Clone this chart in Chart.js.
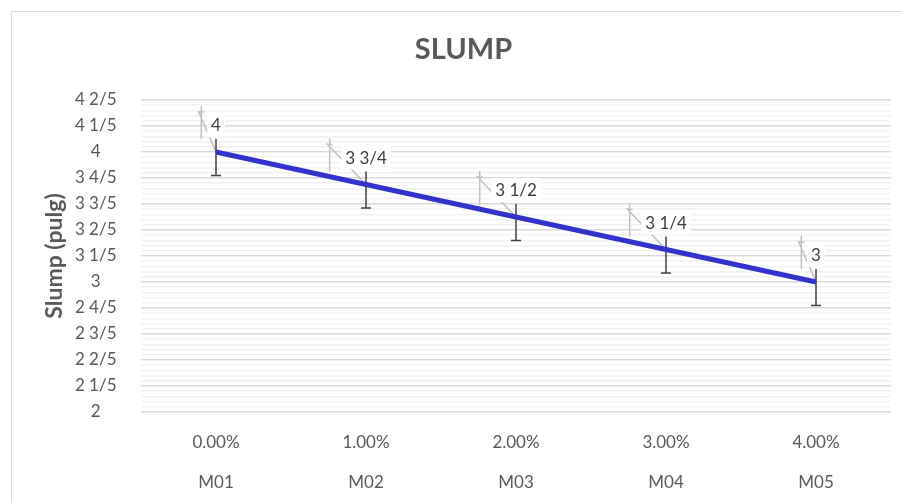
<!DOCTYPE html>
<html>
<head>
<meta charset="utf-8">
<script src="https://cdn.jsdelivr.net/npm/chart.js@4/dist/chart.umd.min.js"></script>
<style>
  html, body { margin: 0; padding: 0; background: #fff; }
  #wrap { position: relative; width: 901px; height: 501px; overflow: hidden; }
  #frame { position: absolute; left: 11px; top: 11px; width: 950px; height: 550px;
           border-top: 1px solid #d9d9d9; border-left: 1px solid #d9d9d9; }
  canvas { position: absolute; left: 0; top: 0; }
</style>
</head>
<body>
<div id="wrap">
  <div id="frame"></div>
  <canvas id="chart" width="901" height="501"></canvas>
</div>
<script>
// ============ DATA ============
const categories = ['0.00%', '1.00%', '2.00%', '3.00%', '4.00%'];
const mixes      = ['M01', 'M02', 'M03', 'M04', 'M05'];
const slump      = [4, 3.75, 3.5, 3.25, 3];
const errPlus    = [0.1, 0.1, 0.1, 0.1, 0.1];
const errMinus   = [0.18, 0.18, 0.18, 0.18, 0.18];
const yMin = 2, yMax = 4.4, yMinorStep = 0.04;

const FONT = 'Lato, "Open Sans", sans-serif';
const GREY_TEXT = '#595959';

// ============ HELPERS ============
function gcd(a, b) { return b ? gcd(b, a % b) : a; }

// 3.75 -> "3 3/4", 2.2 -> "2 1/5"
function frac(v, den) {
  const n = Math.round(v * den);
  const whole = Math.floor(n / den);
  const rest = n % den;
  if (!rest) return String(whole);
  const g = gcd(rest, den);
  return whole + ' ' + (rest / g) + '/' + (den / g);
}

// ============ PLUGINS ============
// error bars + grey leader lines, under the line
const errorBars = {
  id: 'errorBars',
  beforeDatasetsDraw(chart) {
    const { ctx, scales: { x, y } } = chart;
    ctx.save();
    ctx.font = '17px ' + FONT;
    slump.forEach((v, i) => {
      const px = x.getPixelForValue(i);
      const py = y.getPixelForValue(v);
      const top = y.getPixelForValue(v + errPlus[i]);
      const bot = y.getPixelForValue(v - errMinus[i]);

      // leader line (grey)
      const w = ctx.measureText(frac(v, 4)).width;
      const vx = px - (0.68 * w + 8);
      ctx.strokeStyle = '#c0c0c0';
      ctx.lineWidth = 1.5;
      ctx.beginPath();
      ctx.moveTo(vx, py - 46); ctx.lineTo(vx, py - 13);
      ctx.moveTo(vx - 3, py - 40); ctx.lineTo(vx + 3, py - 40);
      ctx.moveTo(vx - 3, py - 41); ctx.lineTo(px, py);
      ctx.stroke();

      // error bar
      ctx.strokeStyle = '#404040';
      ctx.lineWidth = 1.5;
      ctx.beginPath();
      ctx.moveTo(px, top); ctx.lineTo(px, bot);
      ctx.moveTo(px - 5, bot); ctx.lineTo(px + 5, bot);
      ctx.stroke();
    });
    ctx.restore();
  }
};

// data labels with white box
const dataLabels = {
  id: 'dataLabels',
  afterDatasetsDraw(chart) {
    const { ctx, scales: { x, y } } = chart;
    ctx.save();
    ctx.font = '17px ' + FONT;
    ctx.textAlign = 'center';
    ctx.textBaseline = 'middle';
    slump.forEach((v, i) => {
      const txt = frac(v, 4);
      const px = x.getPixelForValue(i);
      const py = y.getPixelForValue(v) - 27;
      const w = ctx.measureText(txt).width;
      ctx.fillStyle = '#fff';
      ctx.fillRect(px - w / 2 - 4, py - 12, w + 8, 24);
      ctx.fillStyle = '#404040';
      ctx.fillText(txt, px, py + 1);
    });
    ctx.restore();
  }
};

// ============ CHART ============
new Chart(document.getElementById('chart').getContext('2d'), {
  type: 'line',
  data: {
    labels: categories.map((c, i) => [c, '', mixes[i]]),
    datasets: [{
      label: 'Slump',
      data: slump,
      borderColor: '#3333cc',
      borderWidth: 5,
      pointRadius: 0,
      tension: 0,
      fill: false,
    }]
  },
  options: {
    responsive: false,
    animation: false,
    devicePixelRatio: 1,
    layout: { padding: { top: 20, left: 36, right: 10, bottom: 0 } },
    plugins: {
      legend: { display: false },
      tooltip: { enabled: false },
      title: {
        display: true,
        text: 'SLUMP',
        color: GREY_TEXT,
        font: { family: FONT, size: 29, weight: 'bold' },
        padding: { top: 12.6, bottom: 32.6 },
      },
    },
    scales: {
      x: {
        offset: true,
        grid: { display: false, drawTicks: false },
        border: { display: false },
        ticks: {
          color: GREY_TEXT,
          padding: 21,
          maxRotation: 0,
          font: { family: FONT, size: 17, lineHeight: '20px' },
        },
        afterFit(scale) { scale.height = 89; },
      },
      y: {
        min: yMin,
        max: yMax,
        border: { display: false },
        grid: {
          drawTicks: false,
          lineWidth: 1.5,
          color: (c) => c.index % 5 === 0 ? '#d9d9d9' : '#f2f2f2',
        },
        ticks: {
          stepSize: yMinorStep,
          autoSkip: false,
          crossAlign: 'center',
          padding: 24.5,
          color: GREY_TEXT,
          font: { family: FONT, size: 17 },
          callback: (v, i) => i % 5 === 0 ? frac(v, 5) : '',
        },
        title: {
          display: true,
          text: 'Slump (pulg)',
          color: GREY_TEXT,
          font: { family: FONT, size: 23, weight: 'bold' },
          padding: { top: 5, bottom: 0 },
        },
        afterFit(scale) { scale.width = 105; },
      }
    }
  },
  plugins: [errorBars, dataLabels]
});
</script>
</body>
</html>
